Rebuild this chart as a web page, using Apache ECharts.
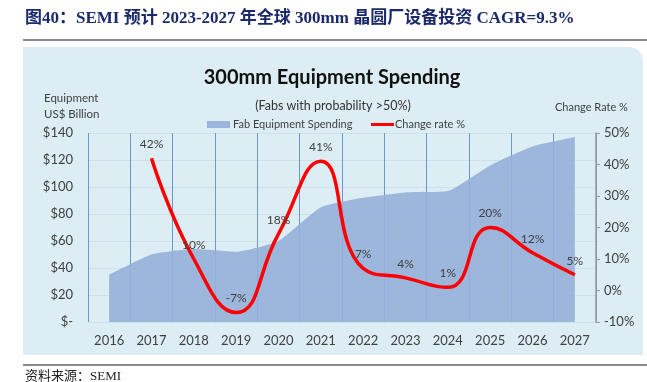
<!DOCTYPE html>
<html><head><meta charset="utf-8">
<script src="https://cdn.jsdelivr.net/npm/echarts@6/dist/echarts.min.js"></script>
<style>html,body{margin:0;padding:0;background:#fff}#c{width:647px;height:382px}</style>
</head><body><div id="c"></div>
<script>
var years = ['2016','2017','2018','2019','2020','2021','2022','2023','2024','2025','2026','2027'];
var spending = [35, 50, 54, 52, 60, 85, 92, 96, 97, 116, 130, 137];
var changeRate = [null, 42, 10, -7, 18, 41, 7, 4, 1, 20, 12, 5];
var leftTicks = {min: 0, max: 140, interval: 20};
var rightTicks = {min: -10, max: 50, interval: 10};

var chart = echarts.init(document.getElementById('c'), null, {renderer: 'canvas'});
var fontLat = 'Lato, "Open Sans", sans-serif';
var serif = '"Liberation Serif", "Noto Sans CJK SC", serif';
chart.setOption({
  animation: false,
  backgroundColor: '#ffffff',
  graphic: [
    {type: 'rect', z: -10, shape: {x: 23, y: 47, width: 620, height: 308, r: [0, 14, 0, 0]}, style: {fill: '#dcedf3'}},
    {type: 'rect', shape: {x: 23, y: 39, width: 624, height: 2}, style: {fill: '#8a8a8a'}},
    {type: 'rect', shape: {x: 23, y: 364, width: 624, height: 2}, style: {fill: '#8a8a8a'}},
    {type: 'text', left: 25, top: 10, style: {text: '图40：SEMI 预计 2023-2027 年全球 300mm 晶圆厂设备投资 CAGR=9.3%', font: 'bold 17px ' + serif, fill: '#1b2a6b'}},
    {type: 'text', left: 25, top: 370, style: {text: '资料来源：SEMI', font: '13px ' + serif, fill: '#222'}},
    {type: 'text', left: 44, top: 90, style: {text: 'Equipment\nUS$ Billion', font: '11.5px ' + fontLat, fill: '#404040', lineHeight: 16}},
    {type: 'text', left: 555, top: 102, style: {text: 'Change Rate %', font: '11px ' + fontLat, fill: '#404040'}}
  ],
  title: [
    {text: '300mm Equipment Spending', left: 327, top: 63, textAlign: 'center',
     textStyle: {fontFamily: fontLat, fontWeight: 'bold', fontSize: 20, color: '#111'}},
    {text: '(Fabs with probability >50%)', left: 328, top: 94, textAlign: 'center',
     textStyle: {fontFamily: fontLat, fontWeight: 'normal', fontSize: 12.5, color: '#333'}}
  ],
  legend: [
    {data: [{name: 'Fab Equipment Spending', icon: 'rect'}], left: 202, top: 114, itemWidth: 23, itemHeight: 7, itemGap: 4,
     textStyle: {fontFamily: fontLat, fontSize: 11, color: '#404040', padding: [0, 0, 0, -2]}},
    {data: [{name: 'Change rate %', icon: 'rect'}], left: 366, top: 114, itemWidth: 23, itemHeight: 3, itemGap: 4,
     textStyle: {fontFamily: fontLat, fontSize: 11, color: '#404040', padding: [0, 0, 0, -4]}}
  ],
  grid: {left: 88, right: 51, top: 133, bottom: 60},
  xAxis: {
    type: 'category', data: years, boundaryGap: true,
    axisLine: {show: false}, axisTick: {show: false},
    axisLabel: {fontFamily: fontLat, fontSize: 13, color: '#404040', margin: 12},
    splitLine: {show: true, lineStyle: {color: '#6a98cf', width: 1}}
  },
  yAxis: [
    {type: 'value', min: leftTicks.min, max: leftTicks.max, interval: leftTicks.interval,
     axisLine: {show: false}, axisTick: {show: false},
     axisLabel: {fontFamily: fontLat, fontSize: 13, color: '#404040', margin: 15,
       formatter: function (v) { return v === 0 ? '$-' : '$' + v; }},
     splitLine: {show: true, lineStyle: {color: '#cde2ec', width: 1}}},
    {type: 'value', min: rightTicks.min, max: rightTicks.max, interval: rightTicks.interval, position: 'right',
     axisLine: {show: true, lineStyle: {color: '#9a9a9a', width: 1.5}},
     axisTick: {show: true, length: 4, lineStyle: {color: '#9a9a9a'}},
     axisLabel: {fontFamily: fontLat, fontSize: 13, color: '#404040', margin: 8,
       formatter: function (v) { return v + '%'; }},
     splitLine: {show: false}}
  ],
  series: [
    {name: 'Fab Equipment Spending', type: 'line', data: spending, yAxisIndex: 0,
     symbol: 'none', smooth: 0.15,
     itemStyle: {color: '#9db5dc'},
     lineStyle: {width: 0, color: '#9db5dc'},
     areaStyle: {color: 'rgba(150,175,217,0.9)', opacity: 1}},
    {name: 'Change rate %', type: 'line', data: changeRate, yAxisIndex: 1,
     symbol: 'circle', symbolSize: 0.1, showSymbol: true, smooth: 0.5, connectNulls: false,
     itemStyle: {color: '#ff0000'},
     lineStyle: {color: '#ff0000', width: 3.5},
     label: {show: true, position: 'top', distance: 8, fontFamily: fontLat, fontSize: 12, color: '#404040',
       formatter: function (p) { return p.value + '%'; }}}
  ]
});
</script></body></html>
